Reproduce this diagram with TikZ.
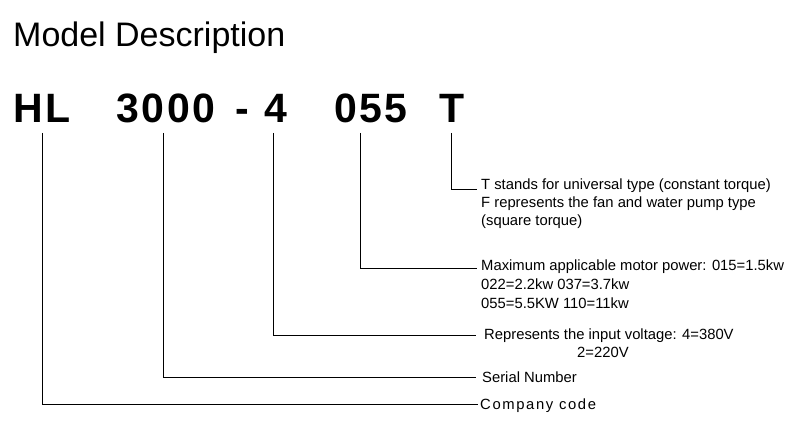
\documentclass[tikz,border=0pt]{standalone}
\usepackage{fontspec}
\setmainfont{Liberation Sans}
\begin{document}
\begin{tikzpicture}[x=1pt,y=-1pt,
  lbl/.style={anchor=base west, inner sep=0pt, font=\fontsize{14.8}{17}\selectfont},
  code/.style={anchor=base, inner sep=0pt, font=\fontsize{41}{45}\selectfont\bfseries\addfontfeature{LetterSpace=6}},
  conn/.style={draw=black, line width=0.8pt}]
\useasboundingbox (0,0) rectangle (800,443);
\fill[white] (0,0) rectangle (800,443);
% title
\node[anchor=base west, inner sep=0pt, font=\fontsize{34}{40}\selectfont] (title) at (13,47) {Model Description};
% code parts
\node[code] (hl) at (42,123) {HL};
\node[code] (ser) at (166,123) {3000};
\node[code] (dash) at (242,123) {-};
\node[code] (volt) at (276,123) {4};
\node[code] (pow) at (371,123) {055};
\node[code] (typ) at (452,123) {T};
% connector start points
\coordinate (pHL) at (42,133);
\coordinate (pSer) at (163,133);
\coordinate (pVolt) at (273,133);
\coordinate (pPow) at (360,133);
\coordinate (pTyp) at (451,133);
% connector end points
\coordinate (eTyp) at (477,189);
\coordinate (ePow) at (477,268);
\coordinate (eVolt) at (476,335);
\coordinate (eSer) at (476,377);
\coordinate (eHL) at (478,404);
% labels
\node[lbl] (t1) at (481,190) {T stands for universal type (constant torque)};
\node[lbl] (t2) at (481,208) {F represents the fan and water pump type};
\node[lbl] (t3) at (481,226) {(square torque)};
\node[lbl] (m1) at (481,271) {Maximum applicable motor power: 015=1.5kw};
\node[lbl] (m2) at (481,290) {022=2.2kw 037=3.7kw};
\node[lbl] (m3) at (481,309) {055=5.5KW 110=11kw};
\node[lbl] (v1) at (484,339) {Represents the input voltage: 4=380V};
\node[lbl] (v2) at (577,357) {2=220V};
\node[lbl] (s1) at (482,382) {Serial Number};
\node[lbl, font=\fontsize{14.8}{17}\selectfont\addfontfeature{LetterSpace=11}] (c1) at (480,409) {Company code};
% connectors
\draw[conn] (pTyp) |- (eTyp);
\draw[conn] (pPow) |- (ePow);
\draw[conn] (pVolt) |- (eVolt);
\draw[conn] (pSer) |- (eSer);
\draw[conn] (pHL) |- (eHL);
\end{tikzpicture}
\end{document}
